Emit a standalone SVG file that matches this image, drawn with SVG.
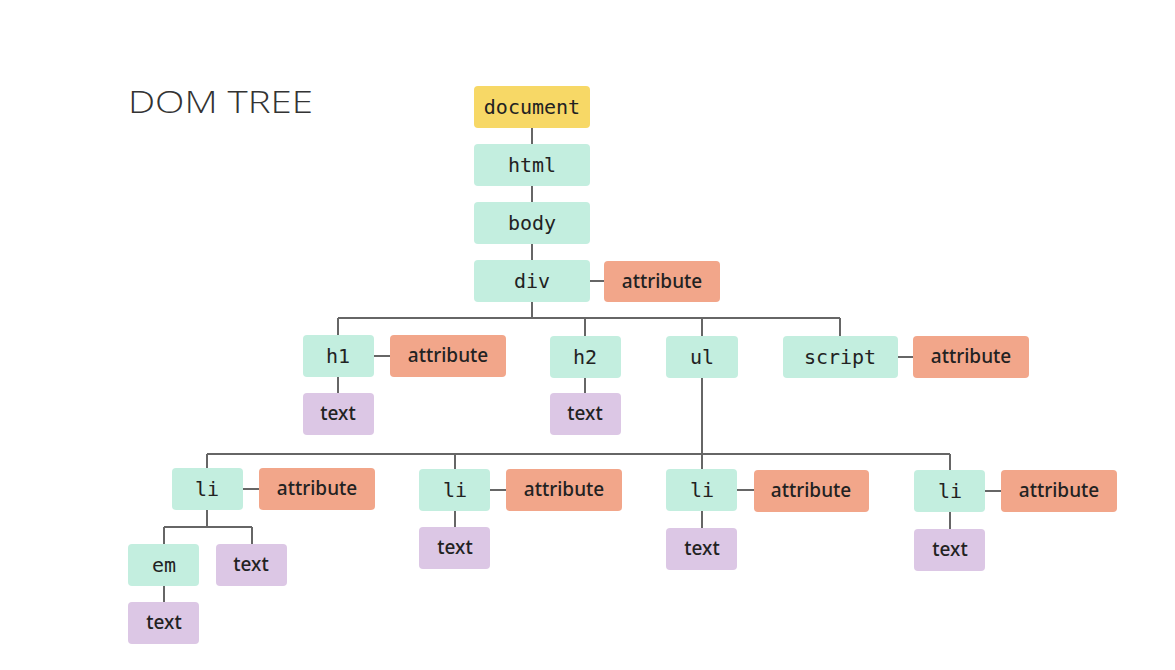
<svg xmlns="http://www.w3.org/2000/svg" width="1175" height="670" viewBox="0 0 1175 670">
<style>
.bg{fill:#ffffff}
.el{fill:#c3eedf}
.doc{fill:#f7d866}
.at{fill:#f2a68a}
.tx{fill:#dcc7e5}
.mono{font-family:"DejaVu Sans Mono","Liberation Mono",monospace;font-size:20px;fill:#222;text-anchor:middle}
.sans{font-family:"Noto Sans","Open Sans",sans-serif;font-weight:500;font-size:19px;fill:#222;text-anchor:middle}
.title{font-family:"Open Sans","Noto Sans",sans-serif;font-weight:300;font-size:31px;fill:#333}
.ln{stroke:#666;stroke-width:2;fill:none}
</style>
<rect class="bg" width="1175" height="670"/>
<text class="title" x="128" y="113" textLength="185" lengthAdjust="spacingAndGlyphs">DOM TREE</text>
<g id="connectors">
<path class="ln" d="M532 128V144M532 186V202M532 244V260M590 281H604"/>
<path class="ln" d="M532 302V318M338 318H840M338 318V335M585 318V336M702 318V336M840 318V336"/>
<path class="ln" d="M374 356H390M898 357H913M338 377V393M585 378V393"/>
<path class="ln" d="M702 378V454M207 454H950M207 454V468M455 454V469M702 454V469M950 454V470"/>
<path class="ln" d="M243 489H259M490 490H506M737 490H754M985 491H1001"/>
<path class="ln" d="M455 511V527M702 511V528M950 512V529"/>
<path class="ln" d="M207 510V527M164 527H252M164 527V544M252 527V544M164 586V602"/>
</g>
<g id="document"><rect class="doc" x="474" y="86" width="116" height="42" rx="4"/><text class="mono" x="532" y="114">document</text></g>
<g id="html"><rect class="el" x="474" y="144" width="116" height="42" rx="4"/><text class="mono" x="532" y="172">html</text></g>
<g id="body"><rect class="el" x="474" y="202" width="116" height="42" rx="4"/><text class="mono" x="532" y="230">body</text></g>
<g id="div"><rect class="el" x="474" y="260" width="116" height="42" rx="4"/><text class="mono" x="532" y="288">div</text></g>
<g id="div-attr"><rect class="at" x="604" y="261" width="116" height="41" rx="4"/><text class="sans" x="662" y="288">attribute</text></g>
<g id="h1"><rect class="el" x="303" y="335" width="71" height="42" rx="4"/><text class="mono" x="338" y="363">h1</text></g>
<g id="h1-attr"><rect class="at" x="390" y="335" width="116" height="42" rx="4"/><text class="sans" x="448" y="362">attribute</text></g>
<g id="h1-text"><rect class="tx" x="303" y="393" width="71" height="42" rx="4"/><text class="sans" x="338" y="420">text</text></g>
<g id="h2"><rect class="el" x="550" y="336" width="71" height="42" rx="4"/><text class="mono" x="585" y="364">h2</text></g>
<g id="h2-text"><rect class="tx" x="550" y="393" width="71" height="42" rx="4"/><text class="sans" x="585" y="420">text</text></g>
<g id="ul"><rect class="el" x="666" y="336" width="72" height="42" rx="4"/><text class="mono" x="702" y="364">ul</text></g>
<g id="script"><rect class="el" x="783" y="336" width="115" height="42" rx="4"/><text class="mono" x="840" y="364">script</text></g>
<g id="script-attr"><rect class="at" x="913" y="336" width="116" height="42" rx="4"/><text class="sans" x="971" y="363">attribute</text></g>
<g id="li1"><rect class="el" x="172" y="468" width="71" height="42" rx="4"/><text class="mono" x="207" y="496">li</text></g>
<g id="li1-attr"><rect class="at" x="259" y="468" width="116" height="42" rx="4"/><text class="sans" x="317" y="495">attribute</text></g>
<g id="em"><rect class="el" x="128" y="544" width="71" height="42" rx="4"/><text class="mono" x="164" y="572">em</text></g>
<g id="li1-text"><rect class="tx" x="216" y="544" width="71" height="42" rx="4"/><text class="sans" x="251" y="571">text</text></g>
<g id="em-text"><rect class="tx" x="128" y="602" width="71" height="42" rx="4"/><text class="sans" x="164" y="629">text</text></g>
<g id="li2"><rect class="el" x="419" y="469" width="71" height="42" rx="4"/><text class="mono" x="455" y="497">li</text></g>
<g id="li2-attr"><rect class="at" x="506" y="469" width="116" height="42" rx="4"/><text class="sans" x="564" y="496">attribute</text></g>
<g id="li2-text"><rect class="tx" x="419" y="527" width="71" height="42" rx="4"/><text class="sans" x="455" y="554">text</text></g>
<g id="li3"><rect class="el" x="666" y="469" width="71" height="42" rx="4"/><text class="mono" x="702" y="497">li</text></g>
<g id="li3-attr"><rect class="at" x="754" y="470" width="115" height="42" rx="4"/><text class="sans" x="811" y="497">attribute</text></g>
<g id="li3-text"><rect class="tx" x="666" y="528" width="71" height="42" rx="4"/><text class="sans" x="702" y="555">text</text></g>
<g id="li4"><rect class="el" x="914" y="470" width="71" height="42" rx="4"/><text class="mono" x="950" y="498">li</text></g>
<g id="li4-attr"><rect class="at" x="1001" y="470" width="116" height="42" rx="4"/><text class="sans" x="1059" y="497">attribute</text></g>
<g id="li4-text"><rect class="tx" x="914" y="529" width="71" height="42" rx="4"/><text class="sans" x="950" y="556">text</text></g>
</svg>
